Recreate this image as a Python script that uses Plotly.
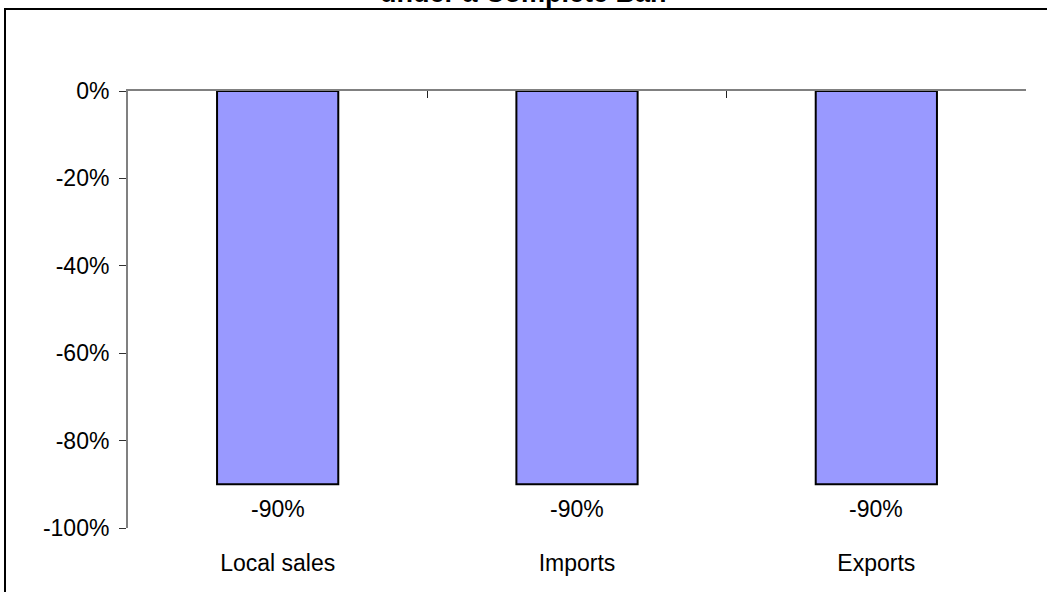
import plotly.graph_objects as go

# Data
categories = ["Local sales", "Imports", "Exports"]
change_pct = [-90, -90, -90]
y_tick_values = [0, -20, -40, -60, -80, -100]
y_tick_labels = ["0%", "-20%", "-40%", "-60%", "-80%", "-100%"]
title_text = "<b>under a Complete Ban</b>"

FONT = "Arial, Liberation Sans, sans-serif"
W, H = 1047, 592
M_L, M_R, M_T, M_B = 128, 21, 91, 64
PW, PH = W - M_L - M_R, H - M_T - M_B


def px_to_paper_x(px):
    return (px - M_L) / PW


def px_to_paper_y(py):
    return 1 - (py - M_T) / PH


fig = go.Figure()

fig.add_trace(go.Bar(
    x=categories,
    y=change_pct,
    width=0.405,
    marker=dict(color="#9999FF", line=dict(color="#000000", width=2)),
    hoverinfo="skip",
    showlegend=False,
))

# invisible trace so the top (zero-line) axis is drawn
fig.add_trace(go.Scatter(
    x=categories, y=[None] * len(categories), xaxis="x2",
    mode="lines", showlegend=False, hoverinfo="skip",
))

# value labels under each bar end
for cat, val in zip(categories, change_pct):
    fig.add_annotation(
        x=cat, y=val, xref="x", yref="y",
        text=f"{val:.0f}%", showarrow=False,
        yanchor="top", yshift=-10,
        font=dict(family=FONT, size=23, color="#000000"),
    )

# chart title (top of the frame)
fig.add_annotation(
    x=px_to_paper_x(W / 2), xref="paper", y=px_to_paper_y(-7.5), yref="paper",
    text=title_text, showarrow=False, yanchor="middle",
    font=dict(family=FONT, size=27, color="#000000"),
)

# outer chart frame
fig.add_shape(
    type="rect", xref="paper", yref="paper",
    x0=px_to_paper_x(5), x1=px_to_paper_x(W + 20),
    y0=px_to_paper_y(H + 20), y1=px_to_paper_y(9),
    line=dict(color="#000000", width=2), fillcolor="rgba(0,0,0,0)",
    layer="above",
)

fig.update_layout(
    width=W, height=H,
    margin=dict(l=M_L, r=M_R, t=M_T, b=M_B, autoexpand=False),
    paper_bgcolor="#FFFFFF", plot_bgcolor="#FFFFFF",
    font=dict(family=FONT, size=23, color="#000000"),
    xaxis=dict(
        type="category", side="bottom", showline=False, showgrid=False,
        zeroline=False, ticks="", ticklabelstandoff=19,
        tickfont=dict(family=FONT, size=23, color="#000000"),
        range=[-0.5, 2.5],
    ),
    xaxis2=dict(
        type="category", overlaying="x", side="top", matches="x",
        showline=True, linecolor="#808080", linewidth=2,
        ticks="inside", tickson="boundaries", ticklen=7, tickwidth=1,
        tickcolor="#202020", showticklabels=False, showgrid=False,
        zeroline=False,
    ),
    yaxis=dict(
        range=[-100, 0], tickmode="array",
        tickvals=y_tick_values, ticktext=y_tick_labels,
        showline=True, linecolor="#808080", linewidth=2,
        ticks="outside", ticklen=7, tickwidth=1, tickcolor="#303030",
        showgrid=False, zeroline=False, ticklabelstandoff=5,
        tickfont=dict(family=FONT, size=23, color="#000000"),
    ),
    bargap=0.6,
)

fig.write_html("out.html")
